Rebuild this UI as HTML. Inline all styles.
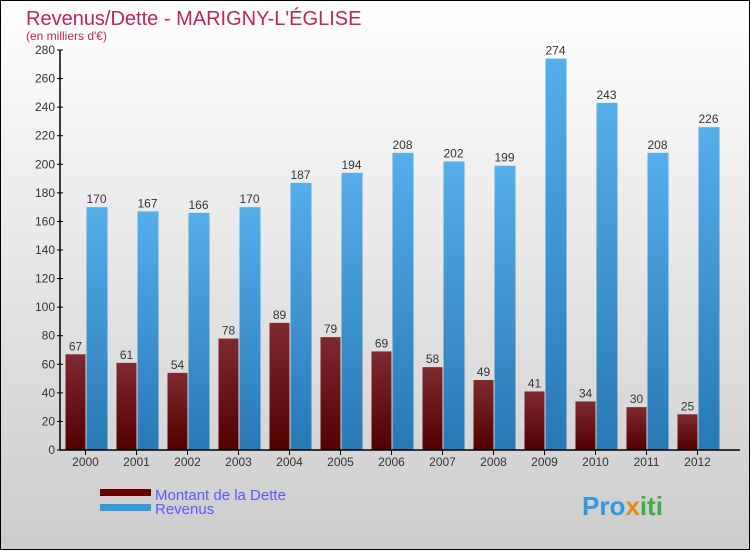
<!DOCTYPE html>
<html><head><meta charset="utf-8"><style>
body{margin:0}
#c{width:750px;height:550px;position:relative;font-family:"Liberation Sans",sans-serif}
</style></head><body>
<div id="c">
<svg id="s" width="750" height="550" xmlns="http://www.w3.org/2000/svg">
<defs>
<linearGradient id="bg" x1="0" y1="0" x2="0" y2="1"><stop offset="0" stop-color="#ffffff"/><stop offset="1" stop-color="#cccccc"/></linearGradient>
<linearGradient id="gd" x1="0" y1="0" x2="0" y2="1"><stop offset="0" stop-color="#7e2a30"/><stop offset="1" stop-color="#520000"/></linearGradient>
<linearGradient id="gr" x1="0" y1="0" x2="0" y2="1"><stop offset="0" stop-color="#56aeea"/><stop offset="1" stop-color="#2878b4"/></linearGradient>
</defs>
<rect x="0.5" y="0.5" width="749" height="549" fill="url(#bg)" stroke="#000"/>
<text x="26" y="25" font-size="20" fill="#c0245a">Revenus/Dette - MARIGNY-L'ÉGLISE</text>
<text x="26" y="40" font-size="12" fill="#c0245a">(en milliers d'€)</text>
<g id="plot"></g>
<g>
<rect x="100" y="489" width="51" height="7" fill="#660000"/>
<text x="155" y="500" font-size="15" fill="#5a5aff">Montant de la Dette</text>
<rect x="100" y="504" width="51" height="7" fill="#3399dd"/>
<text x="155" y="514" font-size="15" fill="#5a5aff">Revenus</text>
</g>
<text x="582" y="515" font-size="26" font-weight="bold" fill="#3399dd">Pro<tspan fill="#e88a1a">x</tspan><tspan fill="#44aa44">iti</tspan></text>
</svg></div>
<script>
const years=["2000","2001","2002","2003","2004","2005","2006","2007","2008","2009","2010","2011","2012"];
const debt=[67,61,54,78,89,79,69,58,49,41,34,30,25];
const revenue=[170,167,166,170,187,194,208,202,199,274,243,208,226];
const yTicks=[0,20,40,60,80,100,120,140,160,180,200,220,240,260,280];
const NS="http://www.w3.org/2000/svg";
const g=document.getElementById('plot');
const y0=450,yTop=50,yMax=280;
function yS(v){return y0-(v/yMax)*(y0-yTop);}
function xC(i){return 85.5+51*i;}
function mk(t,a,p){const e=document.createElementNS(NS,t);for(const k in a)e.setAttribute(k,a[k]);(p||g).appendChild(e);return e;}
yTicks.forEach(v=>{
  const l=mk('line',{x1:57,x2:63,y1:yS(v),y2:yS(v),stroke:'#000'});
  
  
  const t=mk('text',{x:55,y:yS(v)+4,'font-size':12,'text-anchor':'end',fill:'#333'});
  t.textContent=v;
  
  
});
years.forEach((yr,i)=>{
  const c=xC(i);
  const b1=mk('rect',{x:c-20,y:yS(debt[i]),width:20,height:y0-yS(debt[i]),fill:'url(#gd)'});
  
  
  const b2=mk('rect',{x:c+1,y:yS(revenue[i]),width:21,height:y0-yS(revenue[i]),fill:'url(#gr)'});
  
  
  const t1=mk('text',{x:c-10,y:yS(debt[i])-4,'font-size':12,'text-anchor':'middle',fill:'#333'});
  t1.textContent=debt[i];
  
  
  const t2=mk('text',{x:c+11,y:yS(revenue[i])-4,'font-size':12,'text-anchor':'middle',fill:'#333'});
  t2.textContent=revenue[i];
  
  
  const tk=mk('line',{x1:c,x2:c,y1:y0,y2:y0+5,stroke:'#000'});
  
  
  const xl=mk('text',{x:c,y:466,'font-size':12,'text-anchor':'middle',fill:'#333'});
  xl.textContent=yr;
  
  
});
const ya=mk('line',{x1:60,x2:60,y1:yTop,y2:y0,stroke:'#000','stroke-width':1.5});


const xa=mk('line',{x1:60,x2:740,y1:y0,y2:y0,stroke:'#000','stroke-width':1.5});


</script>
</body></html>
